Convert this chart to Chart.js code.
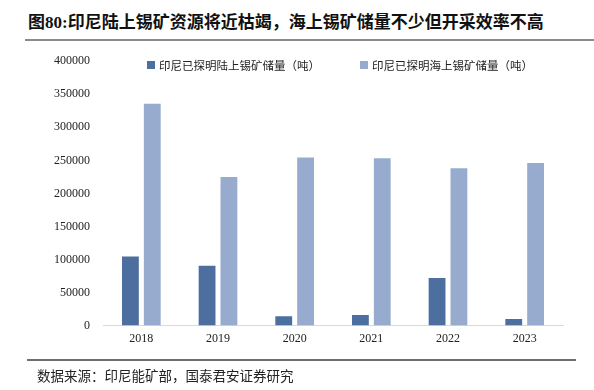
<!DOCTYPE html>
<html>
<head>
<meta charset="utf-8">
<script src="https://cdn.jsdelivr.net/npm/chart.js@4.4.0/dist/chart.umd.min.js"></script>
<style>
  html, body { margin: 0; padding: 0; background: #fff; }
  body { width: 594px; height: 390px; position: relative; overflow: hidden; }
  #title { position: absolute; left: 28px; top: 8px; font: bold 17px "Liberation Serif", "Noto Sans CJK SC", serif; color: #111; white-space: nowrap; }
  #tline { position: absolute; left: 25px; top: 39px; width: 572px; height: 2px; background: #8a8a8a; }
  #wrap { position: absolute; left: 0; top: 41px; width: 594px; height: 319px; }
  #legend { position: absolute; left: 147px; top: 57px; display: flex; align-items: center; font: 11.5px "Noto Sans CJK SC", sans-serif; color: #222; white-space: nowrap; }
  #legend .item { display: flex; align-items: center; margin-right: 40px; }
  #legend .box { width: 8px; height: 8px; margin-right: 4px; }
  #fline { position: absolute; left: 27px; top: 359px; width: 549px; height: 1.5px; background: #6e6e6e; }
  #foot { position: absolute; left: 37px; top: 365px; font: 13.5px "Noto Sans CJK SC", sans-serif; color: #222; white-space: nowrap; }
</style>
</head>
<body>
<div id="title">图80:印尼陆上锡矿资源将近枯竭，海上锡矿储量不少但开采效率不高</div>
<div id="tline"></div>
<div id="wrap"><canvas id="c"></canvas></div>
<div id="legend"></div>
<div id="fline"></div>
<div id="foot">数据来源：印尼能矿部，国泰君安证券研究</div>
<script>
const categories = ['2018', '2019', '2020', '2021', '2022', '2023'];
const onshoreName = '印尼已探明陆上锡矿储量（吨）';
const offshoreName = '印尼已探明海上锡矿储量（吨）';
const onshore = [104500, 90500, 14000, 16000, 72000, 10000];
const offshore = [335500, 225000, 254500, 253000, 238000, 246000];
const yTicks = [0, 50000, 100000, 150000, 200000, 250000, 300000, 350000, 400000];

// HTML legend built from the chart's own legend items
const htmlLegend = {
  id: 'htmlLegend',
  afterUpdate(chart) {
    const el = document.getElementById('legend');
    el.innerHTML = '';
    const items = chart.options.plugins.legend.labels.generateLabels(chart);
    items.forEach(it => {
      const d = document.createElement('div'); d.className = 'item';
      const b = document.createElement('span'); b.className = 'box'; b.style.background = it.fillStyle;
      const t = document.createElement('span'); t.textContent = it.text;
      d.appendChild(b); d.appendChild(t); el.appendChild(d);
    });
  }
};

new Chart(document.getElementById('c'), {
  type: 'bar',
  data: {
    labels: categories,
    datasets: [
      { label: onshoreName, data: onshore, backgroundColor: '#4d6fa0', categoryPercentage: 0.57, barPercentage: 0.77 },
      { label: offshoreName, data: offshore, backgroundColor: '#97abcf', categoryPercentage: 0.57, barPercentage: 0.77 }
    ]
  },
  options: {
    responsive: true,
    maintainAspectRatio: false,
    animation: false,
    layout: { padding: { left: 41, right: 31, top: 2, bottom: 8 } },
    plugins: {
      tooltip: { enabled: false },
      legend: { display: false }
    },
    scales: {
      x: {
        grid: { display: false, tickLength: 0 },
        border: { display: true, color: '#d9d9d9', width: 1 },
        ticks: { color: '#222', padding: 6, font: { family: '"Liberation Serif", serif', size: 12 } }
      },
      y: {
        min: 0, max: 400000,
        afterBuildTicks(axis) { axis.ticks = yTicks.map(v => ({ value: v })); },
        grid: { display: false, tickLength: 0 },
        border: { display: false },
        ticks: { color: '#222', padding: 13, font: { family: '"Liberation Serif", serif', size: 12 },
                 callback: v => String(v) }
      }
    }
  },
  plugins: [htmlLegend]
});
</script>
</body>
</html>
